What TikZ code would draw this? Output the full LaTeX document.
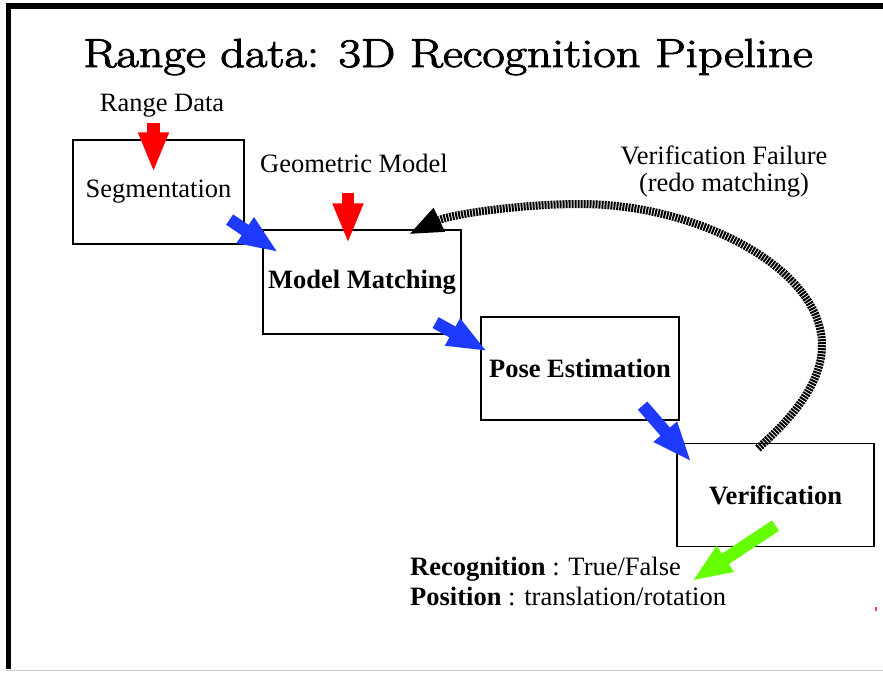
\documentclass[tikz,border=0pt]{standalone}
\usepackage{fontspec}
\usepackage{graphicx}
\usetikzlibrary{arrows.meta}
\usetikzlibrary{positioning}
\usetikzlibrary{calc}
\newfontfamily\timesfont{Liberation Serif}
\definecolor{arrowred}{RGB}{255,0,0}
\definecolor{arrowblue}{RGB}{30,58,255}
\definecolor{arrowgreen}{RGB}{102,255,0}
\def\scale{1}
\newcommand\heavytext[1]{\special{pdf:literal 2 Tr 0.9 w}#1\special{pdf:literal 0 Tr 0.4 w}}

\begin{document}
\begin{tikzpicture}[scale=\scale,x=1pt,y=-1pt,
    procbox/.style={draw,line width=1.2pt,inner sep=0pt,
      font=\timesfont\fontsize{26.5}{26.5}\selectfont},
    lbl/.style={inner sep=0pt,font=\timesfont\fontsize{26.5}{26.5}\selectfont},
    fatarrow/.style={line width=12.5pt,-{Triangle[length=40pt,width=28pt]}},
    redarrow/.style={fatarrow,draw=arrowred,fill=arrowred},
    bluearrow/.style={fatarrow,draw=arrowblue,fill=arrowblue},
    greenarrow/.style={fatarrow,draw=arrowgreen,fill=arrowgreen},
    loopback/.style={line width=8pt,dash pattern=on 2pt off 1pt,
      -{Triangle[length=34pt,width=24pt]}}]
  \useasboundingbox (0,0) rectangle (883,672);

  % frame of the slide
  \fill (6,3) rectangle (883,9);
  \fill (6,3) rectangle (11,669);
  \draw[gray!40,line width=1.2pt] (6,670.5) -- (883,670.5);
  \fill[magenta!80] (875,607) rectangle (877,611);

  \node[anchor=base,inner sep=0pt] (title) at (448,67)
    {\scalebox{1.2}[1]{\fontsize{40.5}{40.5}\selectfont\heavytext{Range data: 3D Recognition Pipeline}}};

  \node[procbox,minimum width=171pt,minimum height=104pt] (seg) at (158.5,192) {Segmentation};
  \node[procbox,minimum width=198pt,minimum height=104pt] (mm) at (362,282) {\bfseries Model Matching};
  \node[procbox,minimum width=198pt,minimum height=103pt] (pe) at (580,368.5) {\bfseries Pose Estimation};
  \node[procbox,minimum width=197pt,minimum height=103pt] (ver) at (775.5,495) {\bfseries Verification};

  \node[lbl,anchor=base] (rdata) at (162,111) {Range Data};
  \node[lbl,anchor=base] (gmodel) at (354,172) {Geometric Model};
  \node[lbl,anchor=base,align=center] (vfail) at (724,191) {Verification Failure\\(redo matching)};
  \node[lbl,anchor=base west,align=left,font=\timesfont\fontsize{26.5}{30}\selectfont] (result) at (410,605)
    {\textbf{Recognition} : True/False\\\textbf{Position} : translation/rotation};

  \draw[redarrow] ([shift={(-8.5,12)}]rdata.base) -- ([shift={(-5,33)}]seg.north);
  \draw[redarrow] ([shift={(-6,21)}]gmodel.base) -- ([shift={(-14,14)}]mm.north);

  \draw[bluearrow] ([shift={(-15,-25)}]seg.south east) -- ([shift={(16,23)}]mm.north west);
  \draw[bluearrow] ([shift={(-26,-12)}]mm.south east) -- ([shift={(7,35)}]pe.north west);
  \draw[bluearrow] ([shift={(-37,-15)}]pe.south east) -- ([shift={(15,19)}]ver.north west);

  \coordinate (restip) at (692,581);
  \draw[greenarrow] ([shift={(0,-21.5)}]ver.south) -- (restip);

  \coordinate (loopright) at (822,345);
  \coordinate (looptop) at (580,204);
  \draw[loopback] ([shift={(-17.5,5.5)}]ver.north) .. controls +(32,-29) and +(0,40) .. (loopright)
    .. controls +(0,-75) and +(120,0) .. (looptop)
    .. controls +(-60,0) and +(42,-20) .. ([shift={(-53,5)}]mm.north east);
\end{tikzpicture}
\end{document}
